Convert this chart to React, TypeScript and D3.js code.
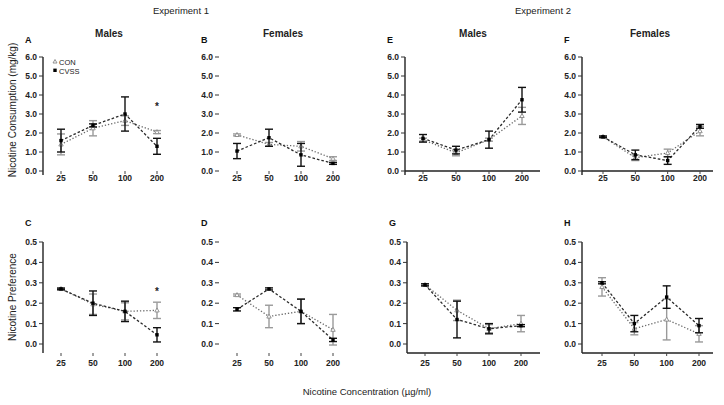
import React from "react";
import * as d3 from "d3";

const concentrations = ["25", "50", "100", "200"];
const consumptionTicks = [0, 1, 2, 3, 4, 5, 6];
const preferenceTicks = [0, 0.1, 0.2, 0.3, 0.4, 0.5];

// A: Experiment 1, males, consumption
const aCon = [1.4, 2.25, 2.65, 2.05];
const aConSem = [0.55, 0.4, 0.25, 0.08];
const aCvss = [1.6, 2.4, 3.0, 1.3];
const aCvssSem = [0.6, 0.08, 0.9, 0.42];
// B: Experiment 1, females, consumption
const bCon = [1.9, 1.4, 1.3, 0.65];
const bConSem = [0.05, 0.1, 0.25, 0.1];
const bCvss = [1.05, 1.75, 0.85, 0.4];
const bCvssSem = [0.4, 0.45, 0.6, 0.05];
// E: Experiment 2, males, consumption
const eCon = [1.65, 0.95, 1.65, 2.9];
const eConSem = [0.08, 0.15, 0.08, 0.45];
const eCvss = [1.72, 1.1, 1.65, 3.75];
const eCvssSem = [0.2, 0.2, 0.45, 0.65];
// F: Experiment 2, females, consumption
const fCon = [1.8, 0.7, 0.95, 2.1];
const fConSem = [0.04, 0.15, 0.2, 0.25];
const fCvss = [1.8, 0.85, 0.55, 2.35];
const fCvssSem = [0.04, 0.25, 0.2, 0.1];
// C: Experiment 1, males, preference
const cCon = [0.27, 0.195, 0.16, 0.165];
const cConSem = [0.004, 0.05, 0.042, 0.04];
const cCvss = [0.27, 0.2, 0.16, 0.045];
const cCvssSem = [0.004, 0.06, 0.05, 0.035];
// D: Experiment 1, females, preference
const dCon = [0.24, 0.135, 0.16, 0.07];
const dConSem = [0.005, 0.055, 0.06, 0.075];
const dCvss = [0.17, 0.27, 0.16, 0.02];
const dCvssSem = [0.008, 0.005, 0.06, 0.008];
// G: Experiment 2, males, preference
const gCon = [0.29, 0.165, 0.075, 0.1];
const gConSem = [0.005, 0.05, 0.02, 0.04];
const gCvss = [0.29, 0.12, 0.075, 0.09];
const gCvssSem = [0.005, 0.09, 0.025, 0.005];
// H: Experiment 2, females, preference
const hCon = [0.28, 0.075, 0.12, 0.05];
const hConSem = [0.045, 0.03, 0.1, 0.04];
const hCvss = [0.3, 0.1, 0.23, 0.09];
const hCvssSem = [0.005, 0.04, 0.055, 0.035];

const aStar = { cat: "200", value: 3.4 };
const cStar = { cat: "200", value: 0.26 };

const FONT = "'Liberation Sans', Arial, Helvetica, sans-serif";

type Panel = {
  letter: string;
  row: number;
  axisX: number;
  xr: [number, number];
  yLine: boolean;
  xLineEnd: number | null;
  con: number[];
  conSem: number[];
  cvss: number[];
  cvssSem: number[];
  star?: { cat: string; value: number };
};

const panels: Panel[] = [
  { letter: "A", row: 0, axisX: 43, xr: [61, 157], yLine: true, xLineEnd: null, con: aCon, conSem: aConSem, cvss: aCvss, cvssSem: aCvssSem, star: aStar },
  { letter: "B", row: 0, axisX: 219, xr: [237, 333], yLine: false, xLineEnd: null, con: bCon, conSem: bConSem, cvss: bCvss, cvssSem: bCvssSem },
  { letter: "E", row: 0, axisX: 405, xr: [423, 522], yLine: true, xLineEnd: 540, con: eCon, conSem: eConSem, cvss: eCvss, cvssSem: eCvssSem },
  { letter: "F", row: 0, axisX: 582, xr: [603, 700], yLine: true, xLineEnd: 713, con: fCon, conSem: fConSem, cvss: fCvss, cvssSem: fCvssSem },
  { letter: "C", row: 1, axisX: 43, xr: [61, 157], yLine: true, xLineEnd: null, con: cCon, conSem: cConSem, cvss: cCvss, cvssSem: cCvssSem, star: cStar },
  { letter: "D", row: 1, axisX: 219, xr: [237, 333], yLine: false, xLineEnd: null, con: dCon, conSem: dConSem, cvss: dCvss, cvssSem: dCvssSem },
  { letter: "G", row: 1, axisX: 407, xr: [425, 521], yLine: true, xLineEnd: 540, con: gCon, conSem: gConSem, cvss: gCvss, cvssSem: gCvssSem },
  { letter: "H", row: 1, axisX: 582, xr: [602, 699], yLine: true, xLineEnd: 713, con: hCon, conSem: hConSem, cvss: hCvss, cvssSem: hCvssSem },
];

const rows = [
  { domain: [0, 6], range: [171, 57], ticks: consumptionTicks, fmt: d3.format(".1f"), axisBottom: 175, xAxisY: 171, labelY: 181, letterY: 43 },
  { domain: [0, 0.5], range: [344, 242], ticks: preferenceTicks, fmt: d3.format(".1f"), axisBottom: 353, xAxisY: 353, labelY: 366, letterY: 226 },
];

function PanelView({ p }: { p: Panel }) {
  const r = rows[p.row];
  const x = d3.scalePoint<string>().domain(concentrations).range(p.xr);
  const y = d3.scaleLinear().domain(r.domain).range(r.range);
  const line = d3
    .line<number>()
    .x((_, i) => x(concentrations[i]) as number)
    .y((v) => y(v));
  const series = [
    { vals: p.con, sem: p.conSem, stroke: "#6a6a6a", bar: "#9a9a9a", dash: "1.3,1.9", kind: "con" },
    { vals: p.cvss, sem: p.cvssSem, stroke: "#2a2a2a", bar: "#111", dash: "2.6,2", kind: "cvss" },
  ];
  const top = r.range[1];
  return (
    <g>
      <text x={p.axisX - 18} y={r.letterY} fontSize={9} fontWeight="bold" fontFamily={FONT} fill="#111">
        {p.letter}
      </text>
      {p.yLine && <line x1={p.axisX} x2={p.axisX} y1={top} y2={r.axisBottom} stroke="#222" strokeWidth={1.4} />}
      {p.xLineEnd !== null && (
        <line x1={p.axisX} x2={p.xLineEnd} y1={r.xAxisY} y2={r.xAxisY} stroke="#222" strokeWidth={1.4} />
      )}
      {r.ticks.map((t) => (
        <g key={t}>
          <line x1={p.axisX - 4} x2={p.axisX} y1={y(t)} y2={y(t)} stroke="#333" strokeWidth={1} />
          <text
            x={p.axisX - 6}
            y={y(t) + 3}
            textAnchor="end"
            fontSize={8.5}
            fontWeight="bold"
            fontFamily={FONT}
            fill="#222"
          >
            {r.fmt(t)}
          </text>
        </g>
      ))}
      {concentrations.map((c) => (
        <g key={c}>
          <line x1={x(c)} x2={x(c)} y1={r.xAxisY} y2={r.xAxisY + 3} stroke="#444" strokeWidth={1} />
          <text x={x(c)} y={r.labelY} textAnchor="middle" fontSize={8.5} fontWeight="bold" fontFamily={FONT} fill="#222">
            {c}
          </text>
        </g>
      ))}
      {series.map((s) => (
        <g key={s.kind}>
          <path d={line(s.vals) || ""} fill="none" stroke={s.stroke} strokeWidth={1.3} strokeDasharray={s.dash} />
          {s.vals.map((v, i) => {
            const cx = x(concentrations[i]) as number;
            const hi = y(v + s.sem[i]);
            const lo = y(v - s.sem[i]);
            return (
              <g key={i}>
                <line x1={cx} x2={cx} y1={hi} y2={lo} stroke={s.bar} strokeWidth={1.4} />
                <line x1={cx - 4} x2={cx + 4} y1={hi} y2={hi} stroke={s.bar} strokeWidth={1.4} />
                <line x1={cx - 4} x2={cx + 4} y1={lo} y2={lo} stroke={s.bar} strokeWidth={1.4} />
                {s.kind === "cvss" ? (
                  <rect x={cx - 1.7} y={y(v) - 1.7} width={3.4} height={3.4} fill="#000" />
                ) : (
                  <path
                    d={`M${cx},${y(v) - 2.4}L${cx + 2.2},${y(v) + 1.6}L${cx - 2.2},${y(v) + 1.6}Z`}
                    fill="#fff"
                    stroke="#888"
                    strokeWidth={0.9}
                  />
                )}
              </g>
            );
          })}
        </g>
      ))}
      {p.star && (
        <text
          x={x(p.star.cat)}
          y={y(p.star.value) + 4}
          textAnchor="middle"
          fontSize={10}
          fontWeight="bold"
          fontFamily={FONT}
          fill="#222"
        >
          *
        </text>
      )}
    </g>
  );
}

export default function App() {
  const textProps = { fontFamily: FONT, fill: "#222" };
  return (
    <svg width={724} height={405} style={{ position: "absolute", left: 0, top: 0, background: "#fff" }}>
      <rect width={724} height={405} fill="#fff" />
      <text x={181} y={14} textAnchor="middle" fontSize={9.5} {...textProps}>
        Experiment 1
      </text>
      <text x={543} y={14} textAnchor="middle" fontSize={9.5} {...textProps}>
        Experiment 2
      </text>
      <text x={109} y={37} textAnchor="middle" fontSize={10} fontWeight="bold" {...textProps}>
        Males
      </text>
      <text x={283} y={37} textAnchor="middle" fontSize={10} fontWeight="bold" {...textProps}>
        Females
      </text>
      <text x={473} y={37} textAnchor="middle" fontSize={10} fontWeight="bold" {...textProps}>
        Males
      </text>
      <text x={650} y={37} textAnchor="middle" fontSize={10} fontWeight="bold" {...textProps}>
        Females
      </text>
      <text transform="translate(16,110) rotate(-90)" textAnchor="middle" fontSize={10} {...textProps}>
        Nicotine Consumption (mg/kg)
      </text>
      <text transform="translate(16,297) rotate(-90)" textAnchor="middle" fontSize={10} {...textProps}>
        Nicotine Preference
      </text>
      <text x={367} y={395} textAnchor="middle" fontSize={9.5} {...textProps}>
        Nicotine Concentration (µg/ml)
      </text>
      {/* legend */}
      <path d="M55,59.5L57,63L53,63Z" fill="#fff" stroke="#888" strokeWidth={0.9} />
      <text x={59} y={64.5} fontSize={7.5} {...textProps}>
        CON
      </text>
      <rect x={53.3} y={68.6} width={3.4} height={3.4} fill="#000" />
      <text x={59} y={73.5} fontSize={7.5} {...textProps}>
        CVSS
      </text>
      {panels.map((p) => (
        <PanelView key={p.letter} p={p} />
      ))}
    </svg>
  );
}
